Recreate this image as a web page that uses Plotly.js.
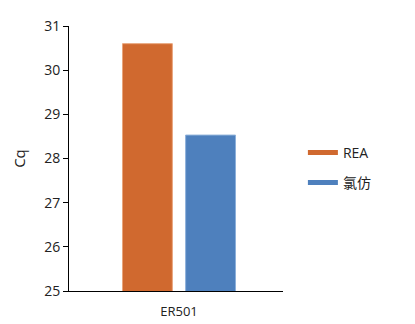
<!DOCTYPE html>
<html>
<head>
<meta charset="utf-8">
<script src="https://cdn.plot.ly/plotly-3.0.1.min.js"></script>
<style>html,body{margin:0;padding:0;background:#fff;}#chart{width:415px;height:324px;}</style>
</head>
<body>
<div id="chart"></div>
<script>
const categories = ["ER501"];
const seriesNames = ["REA", "氯仿"];
const reaValues = [30.6];
const chloroformValues = [28.53];
const yTicks = [25, 26, 27, 28, 29, 30, 31];
const colors = ["#D0692F", "#4E80BD"];
const edgeColors = ["#E9A57C", "#8DB0DA"];

const fontFam = "'Open Sans', 'Noto Sans CJK SC', sans-serif";
const data = [
  {type: "bar", x: categories, y: reaValues, name: seriesNames[0], showlegend: false,
   marker: {color: colors[0], line: {color: edgeColors[0], width: 1}}},
  {type: "bar", x: categories, y: chloroformValues, name: seriesNames[1], showlegend: false,
   marker: {color: colors[1], line: {color: edgeColors[1], width: 1}}},
  {type: "scatter", mode: "lines", x: [null], y: [null], name: seriesNames[0], legendgroup: "a",
   line: {color: colors[0], width: 7}, hoverinfo: "skip"},
  {type: "scatter", mode: "lines", x: [null], y: [null], name: seriesNames[1], legendgroup: "b",
   line: {color: colors[1], width: 7}, hoverinfo: "skip"}
];
const layout = {
  width: 415, height: 324,
  margin: {l: 69, r: 132, t: 26, b: 33},
  paper_bgcolor: "#fff", plot_bgcolor: "#fff",
  font: {family: fontFam, size: 13, color: "#222"},
  barmode: "group", bargap: 0.41, bargroupgap: 0.21,
  showlegend: true,
  legend: {x: 1.093, y: 0.465, xanchor: "left", yanchor: "middle", traceorder: "grouped", tracegroupgap: 9,
           itemwidth: 30, font: {family: fontFam, size: 14, color: "#222"}, itemsizing: "constant"},
  xaxis: {range: [-0.514, 0.486], showline: true, linecolor: "#000", linewidth: 1, ticks: "outside",
          ticklen: 8, tickcolor: "rgba(0,0,0,0)", showgrid: false,
          zeroline: false, tickfont: {size: 13}, fixedrange: true},
  yaxis: {range: [25, 31], tickvals: yTicks, showline: true, linecolor: "#000", linewidth: 1,
          ticks: "outside", ticklen: 5, tickcolor: "#000", showgrid: false, zeroline: false,
          tickfont: {size: 14}, title: {text: "Cq", font: {size: 15}, standoff: 14}}
};
Plotly.newPlot("chart", data, layout, {displayModeBar: false, staticPlot: true});
</script>
</body>
</html>
